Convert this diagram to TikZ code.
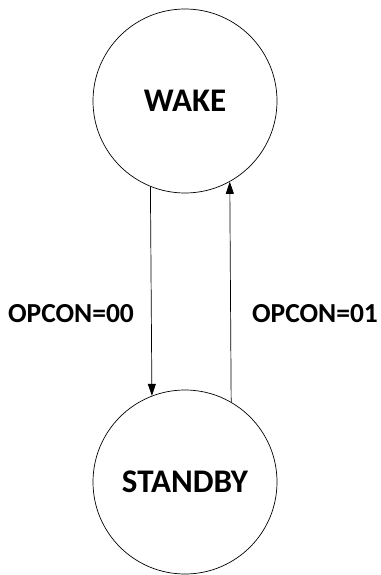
\documentclass[tikz,border=0pt]{standalone}
\usepackage{fontspec}
\setmainfont{Carlito}
\usetikzlibrary{arrows.meta}
\usetikzlibrary{positioning}
\tikzset{
    mode/.style={
           circle,
           draw=black, line width=0.7pt,
           minimum size=184pt,
           inner sep=0pt,
           font=\fontsize{33}{38}\selectfont\bfseries,
           text centered,
           },
    cond/.style={
           font=\fontsize{27.5}{32}\selectfont\bfseries,
           inner sep=0pt,
           },
}
\begin{document}
\begin{tikzpicture}[->,>={Triangle[length=12pt,width=8pt]},line width=0.7pt]
   \useasboundingbox (0pt,0pt) rectangle (380pt,-575pt);

   % the two power modes
   \node[mode] (WAKE) at (185pt,-101pt) {WAKE};
   \node[mode,
    below of=WAKE,        % straight under WAKE
    node distance=381pt] (STANDBY)
    {STANDBY};

   % conditions, left and right of the arrows
   \node[cond] (TOSTANDBY) at (71pt,-314pt) {OPCON=00};
   \node[cond] (TOWAKE) at (315pt,-314pt) {OPCON=01};

   % vertical arrows between the circles
   \path
   (WAKE.248.3) edge (STANDBY.111.7)
   (STANDBY.60.7) edge (WAKE.299.3)
   ;
\end{tikzpicture}
\end{document}
